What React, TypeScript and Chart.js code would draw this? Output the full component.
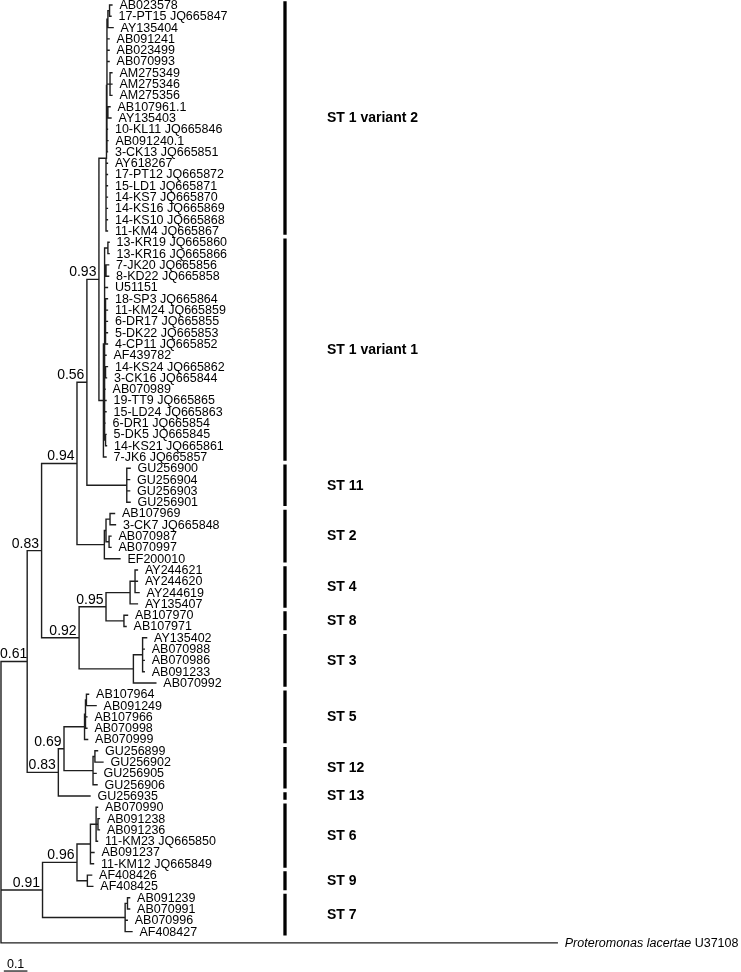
import React, { useEffect, useRef } from "react";
import { Chart, registerables } from "chart.js";

Chart.register(...registerables);

// ---------- DATA ----------
const leafNames: string[] = [
  "AB023578", "17-PT15 JQ665847", "AY135404", "AB091241", "AB023499", "AB070993",
  "AM275349", "AM275346", "AM275356", "AB107961.1", "AY135403", "10-KL11 JQ665846",
  "AB091240.1", "3-CK13 JQ665851", "AY618267", "17-PT12 JQ665872", "15-LD1 JQ665871",
  "14-KS7 JQ665870", "14-KS16 JQ665869", "14-KS10 JQ665868", "11-KM4 JQ665867",
  "13-KR19 JQ665860", "13-KR16 JQ665866", "7-JK20 JQ665856", "8-KD22 JQ665858", "U51151",
  "18-SP3 JQ665864", "11-KM24 JQ665859", "6-DR17 JQ665855", "5-DK22 JQ665853",
  "4-CP11 JQ665852", "AF439782", "14-KS24 JQ665862", "3-CK16 JQ665844", "AB070989",
  "19-TT9 JQ665865", "15-LD24 JQ665863", "6-DR1 JQ665854", "5-DK5 JQ665845",
  "14-KS21 JQ665861", "7-JK6 JQ665857",
  "GU256900", "GU256904", "GU256903", "GU256901",
  "AB107969", "3-CK7 JQ665848", "AB070987", "AB070997", "EF200010",
  "AY244621", "AY244620", "AY244619", "AY135407",
  "AB107970", "AB107971",
  "AY135402", "AB070988", "AB070986", "AB091233", "AB070992",
  "AB107964", "AB091249", "AB107966", "AB070998", "AB070999",
  "GU256899", "GU256902", "GU256905", "GU256906",
  "GU256935",
  "AB070990", "AB091238", "AB091236", "11-KM23 JQ665850", "AB091237", "11-KM12 JQ665849",
  "AF408426", "AF408425",
  "AB091239", "AB070991", "AB070996", "AF408427",
  "Proteromonas lacertae U37108",
];

// distance from root (substitutions/site) of each tip
const leafDepth: number[] = [
  0.470, 0.466, 0.475, 0.458, 0.458, 0.458, 0.470, 0.470, 0.470, 0.462, 0.466, 0.451,
  0.453, 0.451, 0.451, 0.451, 0.451, 0.451, 0.451, 0.451, 0.451,
  0.458, 0.458, 0.456, 0.456, 0.451, 0.451, 0.451, 0.451, 0.451, 0.451, 0.445, 0.451,
  0.447, 0.441, 0.445, 0.445, 0.441, 0.445, 0.447, 0.445,
  0.547, 0.545, 0.545, 0.547,
  0.481, 0.485, 0.466, 0.466, 0.504,
  0.578, 0.578, 0.585, 0.578,
  0.536, 0.530,
  0.617, 0.607, 0.607, 0.607, 0.656,
  0.371, 0.403, 0.364, 0.364, 0.367,
  0.409, 0.432, 0.403, 0.407,
  0.377,
  0.409, 0.417, 0.417, 0.409, 0.394, 0.392,
  0.384, 0.389,
  0.545, 0.545, 0.535, 0.555,
  2.357,
];

// internal node that each tip hangs from
const leafParent: number[] = [
  9, 9, 8, 7, 7, 7, 10, 10, 10, 11, 11, 7, 7, 7, 6, 6, 6, 6, 6, 6, 6,
  14, 14, 15, 15, 13, 16, 16, 16, 16, 16, 13, 17, 17, 13, 13, 13, 13, 18, 18, 12,
  19, 19, 19, 19,
  22, 22, 23, 23, 20,
  27, 27, 27, 26,
  28, 28,
  30, 30, 30, 30, 29,
  35, 35, 34, 34, 33,
  37, 37, 36, 36,
  31,
  41, 42, 42, 41, 40, 40,
  43, 43,
  45, 45, 44, 44,
  0,
];

// internal nodes: depth from root, parent node, posterior support
const nodeDepth: number[] = [
  0.0, 0.111, 0.172, 0.322, 0.364, 0.415, 0.445, 0.449, 0.453, 0.460, 0.462, 0.453,
  0.434, 0.439, 0.453, 0.445, 0.443, 0.443, 0.443, 0.533, 0.438, 0.445, 0.462, 0.458,
  0.331, 0.445, 0.547, 0.568, 0.521, 0.561, 0.600, 0.243, 0.267, 0.354, 0.358, 0.362,
  0.390, 0.398, 0.176, 0.322, 0.379, 0.403, 0.411, 0.366, 0.526, 0.536,
];
const nodeParent: number[] = [
  -1, 0, 1, 2, 3, 4, 5, 6, 7, 8, 7, 7, 5, 12, 13, 13, 13, 13, 13, 4, 3, 20, 21, 21,
  2, 24, 25, 26, 25, 24, 29, 1, 31, 32, 33, 34, 32, 36, 0, 38, 39, 40, 41, 39, 38, 44,
];
const nodeSupport: string[] = [
  "", "0.61", "0.83", "0.94", "0.56", "0.93", "", "", "", "", "", "",
  "", "", "", "", "", "", "", "", "", "", "", "",
  "0.92", "0.95", "", "", "", "", "", "0.83", "0.69", "", "", "",
  "", "", "0.91", "0.96", "", "", "", "", "", "",
];

// subtype brackets
const cladeLabels: string[] = [
  "ST 1 variant 2", "ST 1 variant 1", "ST 11", "ST 2", "ST 4", "ST 8", "ST 3",
  "ST 5", "ST 12", "ST 13", "ST 6", "ST 9", "ST 7",
];
const cladeFirst: number[] = [0, 21, 41, 45, 50, 54, 56, 61, 66, 70, 71, 77, 79];
const cladeLast: number[] = [20, 40, 44, 49, 53, 55, 60, 65, 69, 70, 76, 78, 82];

const scaleBarLength = 0.1;
const scaleBarLabel = "0.1";
const outgroupItalic = "Proteromonas lacertae";

// ---------- LAYOUT (not data) ----------
const W = 741;
const H = 972;
const FONT = "'Liberation Sans', Arial, Helvetica, sans-serif";
const X_MIN = -0.0042;
const X_MAX = 3.1356;
const Y_MIN = -0.4425;
const Y_MAX = 85.575;
const CLADE_BAR_X = 1.2034;
const SCALE_BAR_START = 0.012;
const SCALE_BAR_Y = 85.49;
const LABEL_GAP = 7.5;

function computeNodeY(): number[] {
  const n = nodeDepth.length;
  const kids: number[][] = Array.from({ length: n }, () => []);
  const leafKids: number[][] = Array.from({ length: n }, () => []);
  nodeParent.forEach((p, k) => {
    if (p >= 0) kids[p].push(k);
  });
  leafParent.forEach((p, i) => leafKids[p].push(i));
  const ys: number[] = new Array(n).fill(NaN);
  const get = (k: number): number => {
    if (!isNaN(ys[k])) return ys[k];
    const vals: number[] = [...leafKids[k], ...kids[k].map(get)];
    ys[k] = (Math.min(...vals) + Math.max(...vals)) / 2;
    return ys[k];
  };
  for (let k = 0; k < n; k++) get(k);
  return ys;
}

export default function App() {
  const ref = useRef<HTMLCanvasElement | null>(null);

  useEffect(() => {
    const canvas = ref.current;
    if (!canvas) return;
    const nodeY = computeNodeY();

    const edges: { x: number; y: number | null }[] = [];
    nodeParent.forEach((p, k) => {
      if (p < 0) return;
      edges.push({ x: nodeDepth[p], y: nodeY[p] });
      edges.push({ x: nodeDepth[p], y: nodeY[k] });
      edges.push({ x: nodeDepth[k], y: nodeY[k] });
      edges.push({ x: nodeDepth[k], y: null });
    });
    leafParent.forEach((p, i) => {
      edges.push({ x: nodeDepth[p], y: nodeY[p] });
      edges.push({ x: nodeDepth[p], y: i });
      edges.push({ x: leafDepth[i], y: i });
      edges.push({ x: leafDepth[i], y: null });
    });

    const bars: { x: number; y: number | null }[] = [];
    cladeFirst.forEach((f, c) => {
      bars.push({ x: CLADE_BAR_X, y: f - 0.5 + 0.16 });
      bars.push({ x: CLADE_BAR_X, y: cladeLast[c] + 0.5 - 0.16 });
      bars.push({ x: CLADE_BAR_X, y: null });
    });

    const scaleBar = [
      { x: SCALE_BAR_START, y: SCALE_BAR_Y },
      { x: SCALE_BAR_START + scaleBarLength, y: SCALE_BAR_Y },
    ];

    const textPlugin = {
      id: "treeText",
      afterDatasetsDraw(chart: any) {
        const { ctx } = chart;
        const xs = chart.scales.x;
        const ys = chart.scales.y;
        ctx.save();
        ctx.fillStyle = "#000";
        // tip labels
        ctx.textAlign = "left";
        ctx.textBaseline = "middle";
        const last = leafNames.length - 1;
        ctx.font = `12.5px ${FONT}`;
        for (let i = 0; i < last; i++) {
          ctx.fillText(leafNames[i], xs.getPixelForValue(leafDepth[i]) + LABEL_GAP, ys.getPixelForValue(i) + 0.5);
        }
        // outgroup: italic genus/species, plain accession
        const ox = xs.getPixelForValue(leafDepth[last]) + LABEL_GAP;
        const oy = ys.getPixelForValue(last) + 0.5;
        const rest = leafNames[last].slice(outgroupItalic.length);
        ctx.font = `italic 12.5px ${FONT}`;
        ctx.fillText(outgroupItalic, ox, oy);
        const w = ctx.measureText(outgroupItalic).width;
        ctx.font = `12.5px ${FONT}`;
        ctx.fillText(rest, ox + w, oy);

        // support values
        ctx.font = `14px ${FONT}`;
        ctx.textAlign = "right";
        ctx.textBaseline = "alphabetic";
        nodeSupport.forEach((s, k) => {
          if (!s) return;
          const tw = ctx.measureText(s).width;
          const rx = Math.max(xs.getPixelForValue(nodeDepth[k]) - 2.5, tw);
          ctx.fillText(s, rx, ys.getPixelForValue(nodeY[k]) - 3);
        });

        // clade labels
        ctx.font = `bold 14px ${FONT}`;
        ctx.textAlign = "left";
        ctx.textBaseline = "middle";
        const lx = xs.getPixelForValue(CLADE_BAR_X) + 42;
        cladeLabels.forEach((lab, c) => {
          ctx.fillText(lab, lx, ys.getPixelForValue((cladeFirst[c] + cladeLast[c]) / 2) + 0.5);
        });

        // scale bar label
        ctx.font = `12.5px ${FONT}`;
        ctx.textAlign = "center";
        ctx.textBaseline = "alphabetic";
        ctx.fillText(
          scaleBarLabel,
          xs.getPixelForValue(SCALE_BAR_START + scaleBarLength / 2),
          ys.getPixelForValue(SCALE_BAR_Y) - 3
        );
        ctx.restore();
      },
    };

    const chart = new Chart(canvas, {
      type: "line",
      data: {
        datasets: [
          {
            data: edges as any,
            borderColor: "#1e1e1e",
            borderWidth: 1.4,
            pointRadius: 0,
            fill: false,
            tension: 0,
            spanGaps: false,
            borderJoinStyle: "miter",
            borderCapStyle: "square",
          },
          {
            data: bars as any,
            borderColor: "#000",
            borderWidth: 3.3,
            pointRadius: 0,
            fill: false,
            spanGaps: false,
            borderCapStyle: "butt",
          },
          {
            data: scaleBar as any,
            borderColor: "#1e1e1e",
            borderWidth: 1.3,
            pointRadius: 0,
            fill: false,
          },
        ],
      },
      options: {
        animation: false,
        responsive: false,
        maintainAspectRatio: false,
        devicePixelRatio: 1,
        layout: { padding: 0 },
        events: [],
        plugins: { legend: { display: false }, tooltip: { enabled: false }, title: { display: false } },
        scales: {
          x: { type: "linear", display: false, min: X_MIN, max: X_MAX },
          y: { type: "linear", display: false, reverse: true, min: Y_MIN, max: Y_MAX },
        },
      },
      plugins: [textPlugin],
    });
    return () => chart.destroy();
  }, []);

  return (
    <div style={{ position: "absolute", left: 0, top: 0, width: W, height: H, background: "#fff" }}>
      <canvas ref={ref} width={W} height={H} style={{ display: "block", width: W, height: H }} />
    </div>
  );
}
